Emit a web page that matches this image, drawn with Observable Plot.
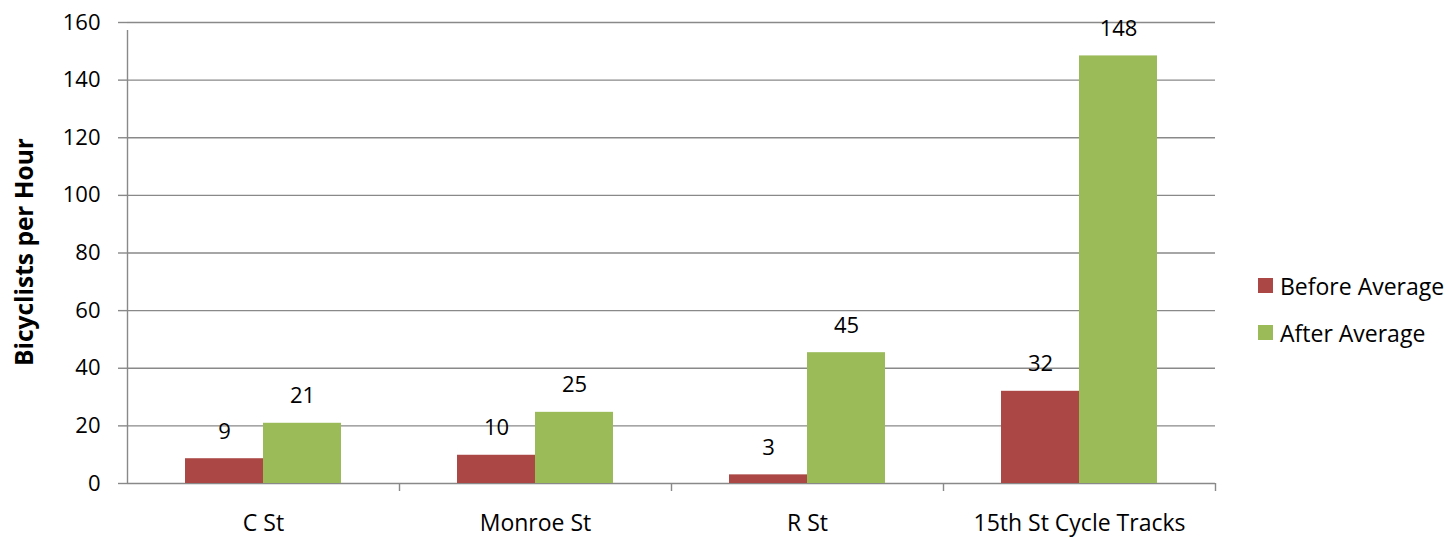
<!DOCTYPE html>
<html>
<head>
<meta charset="utf-8">
<script src="https://cdn.jsdelivr.net/npm/d3@7"></script>
<script src="https://cdn.jsdelivr.net/npm/@observablehq/plot@0.6"></script>
<style>
  html, body { margin: 0; padding: 0; background: #fff; }
  #wrap { position: relative; width: 1449px; height: 538px; font-family: "Open Sans", sans-serif; }
  #ytitle { position: absolute; left: 23px; top: 252px; transform: translate(-50%, -50%) rotate(-90deg);
            font-weight: bold; font-size: 24.5px; white-space: nowrap; color: #000; }
  #legend { position: absolute; left: 1258px; top: 262px; font-size: 23px; color: #000; }
  .item { display: flex; align-items: center; height: 47px; }
  .sw { width: 15px; height: 15px; margin-right: 7px; }
</style>
</head>
<body>
<div id="wrap">
  <div id="chart"></div>
  <div id="ytitle">Bicyclists per Hour</div>
  <div id="legend"></div>
</div>
<script>
const categories = ["C St", "Monroe St", "R St", "15th St Cycle Tracks"];
const series = ["Before Average", "After Average"];
const beforeAvg = [8.6, 9.8, 3.0, 32.0];
const afterAvg = [20.9, 24.7, 45.4, 148.4];
const yTicks = [0, 20, 40, 60, 80, 100, 120, 140, 160];
const colors = ["#AB4744", "#9BBB59"];

const W = 1449, H = 538;
const mL = 127, mR = 234, mT = 22, mB = 55;
const bw = (W - mL - mR) / categories.length;
const barW = 78;

const before = categories.map((c, i) => ({cat: c, value: beforeAvg[i]}));
const after = categories.map((c, i) => ({cat: c, value: afterAvg[i]}));
const gridColor = "#898989";

const chart = Plot.plot({
  width: W, height: H,
  marginLeft: mL, marginRight: mR, marginTop: mT, marginBottom: mB,
  style: {fontFamily: "'Open Sans', sans-serif", fontSize: "22px", color: "#000", background: "#fff"},
  x: {type: "band", domain: categories, padding: 0, label: null},
  y: {domain: [0, 160], ticks: yTicks, label: null},
  marks: [
    Plot.gridY(yTicks, {stroke: gridColor, strokeOpacity: 1, strokeWidth: 1.4}),
    Plot.axisY(yTicks, {tickSize: 9, tickPadding: 18, stroke: gridColor, strokeWidth: 1.4, fontSize: 22, label: null}),
    Plot.axisX({tickSize: 0, tickPadding: 31, fontSize: 23, label: null}),
    Plot.barY(before, {x: "cat", y: "value", fill: colors[0], insetLeft: bw / 2 - barW, insetRight: bw / 2}),
    Plot.barY(after, {x: "cat", y: "value", fill: colors[1], insetLeft: bw / 2, insetRight: bw / 2 - barW}),
    Plot.text(before, {x: "cat", y: "value", text: d => String(Math.round(d.value)), dx: -barW / 2, dy: -27, fontSize: 22, fill: "#000"}),
    Plot.text(after, {x: "cat", y: "value", text: d => String(Math.round(d.value)), dx: barW / 2, dy: -27, fontSize: 22, fill: "#000"}),
    // left axis line
    Plot.ruleX([categories[0]], {x: d => d, y1: 0, y2: 160, dx: -bw / 2, stroke: gridColor, strokeWidth: 1.4, insetBottom: -8}),
    // category boundary ticks
    Plot.ruleX(categories.slice(1), {x: d => d, y1: 0, y2: 0, dx: -bw / 2, stroke: gridColor, strokeWidth: 1.4, insetBottom: -8}),
    Plot.ruleX([categories[categories.length - 1]], {x: d => d, y1: 0, y2: 0, dx: bw / 2, stroke: gridColor, strokeWidth: 1.4, insetBottom: -8})
  ]
});
document.getElementById("chart").appendChild(chart);

const legend = document.getElementById("legend");
series.forEach((s, i) => {
  const item = document.createElement("div");
  item.className = "item";
  const sw = document.createElement("div");
  sw.className = "sw";
  sw.style.background = colors[i];
  const lab = document.createElement("span");
  lab.textContent = s;
  item.appendChild(sw);
  item.appendChild(lab);
  legend.appendChild(item);
});
</script>
</body>
</html>
